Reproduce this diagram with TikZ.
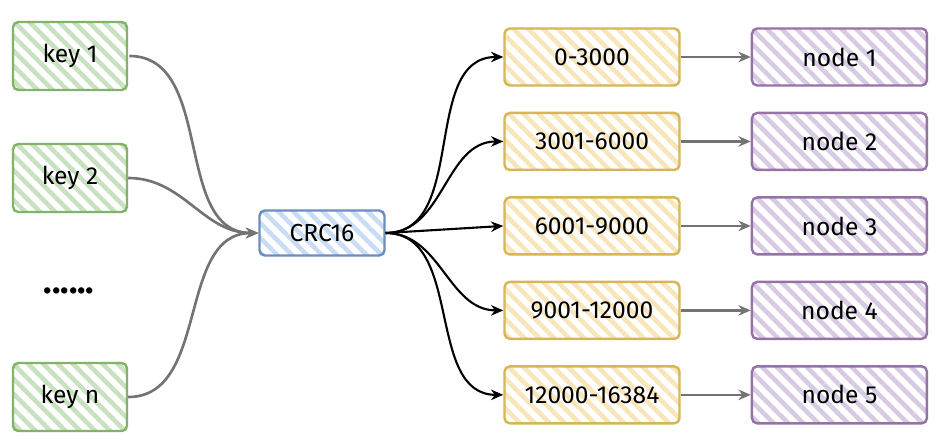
\documentclass[tikz,border=0pt]{standalone}
\usepackage{fontspec}
\setmainfont{Fira Sans}
\usetikzlibrary{positioning,arrows.meta,patterns.meta}

\definecolor{keyline}{HTML}{82B366}
\definecolor{keyfill}{HTML}{C8E1C0}
\definecolor{crcline}{HTML}{6C8EBF}
\definecolor{crcfill}{HTML}{CADCF5}
\definecolor{slotline}{HTML}{D6B656}
\definecolor{slotfill}{HTML}{F8E6BA}
\definecolor{nodeline}{HTML}{9673A6}
\definecolor{nodefill}{HTML}{D8CAE2}

\tikzset{
  box/.style={draw, rounded corners=3pt, line width=1.4pt,
    minimum width=3.5cm, minimum height=1.14cm,
    pattern={Lines[angle=-45,distance=6pt,line width=2.6pt]},
    font=\fontsize{14}{16}\selectfont},
  keybox/.style={box, draw=keyline, pattern color=keyfill,
    minimum width=2.28cm, minimum height=1.36cm},
  crcbox/.style={box, draw=crcline, pattern color=crcfill,
    minimum width=2.5cm, minimum height=0.9cm},
  slotbox/.style={box, draw=slotline, pattern color=slotfill},
  nodebox/.style={box, draw=nodeline, pattern color=nodefill},
  keyarrow/.style={-{Stealth[length=7pt,width=6pt]}, line width=1.5pt, black!55},
  slotarrow/.style={-{Stealth[length=7pt,width=6pt]}, line width=1.2pt, black},
  maparrow/.style={-{Stealth[length=7pt,width=6pt]}, line width=1.5pt, black!55}
}

\begin{document}
\begin{tikzpicture}[node distance=0.5cm]
    \useasboundingbox (0,0) rectangle (18.94,-8.8);

    % keys
    \node[keybox] (key1) at (1.40,-1.12) {key 1};
    \node[keybox] (key2) at (1.40,-3.56) {key 2};
    \node[keybox] (keyn) at (1.40,-7.94) {key n};
    \node[font=\fontsize{20}{22}\selectfont\bfseries] (dots) at (1.38,-5.82) {......};

    % hash
    \node[crcbox] (crc) at (6.44,-4.66) {CRC16};

    % slot ranges
    \node[slotbox] (r1) at (11.84,-1.14) {0-3000};
    \node[slotbox] (r2) [below=of r1] {3001-6000};
    \node[slotbox] (r3) [below=of r2] {6001-9000};
    \node[slotbox] (r4) [below=of r3] {9001-12000};
    \node[slotbox] (r5) [below=of r4] {12000-16384};

    % redis nodes
    \node[nodebox] (n1) [right=1.4cm of r1] {node 1};
    \node[nodebox] (n2) [right=1.4cm of r2] {node 2};
    \node[nodebox] (n3) [right=1.4cm of r3] {node 3};
    \node[nodebox] (n4) [right=1.4cm of r4] {node 4};
    \node[nodebox] (n5) [right=1.4cm of r5] {node 5};

    \draw[keyarrow] (key1.east) to[out=0,in=180] (crc.west);
    \draw[keyarrow] (key2.east) to[out=0,in=180] (crc.west);
    \draw[keyarrow] (keyn.east) to[out=0,in=180] (crc.west);

    \draw[slotarrow] (crc.east) to[out=0,in=180] (r1.west);
    \draw[slotarrow] (crc.east) to[out=0,in=180] (r2.west);
    \draw[slotarrow] (crc.east) -- (r3.west);
    \draw[slotarrow] (crc.east) to[out=0,in=180] (r4.west);
    \draw[slotarrow] (crc.east) to[out=0,in=180] (r5.west);

    \draw[maparrow] (r1) -- (n1);
    \draw[maparrow] (r2) -- (n2);
    \draw[maparrow] (r3) -- (n3);
    \draw[maparrow] (r4) -- (n4);
    \draw[maparrow] (r5) -- (n5);
\end{tikzpicture}
\end{document}
